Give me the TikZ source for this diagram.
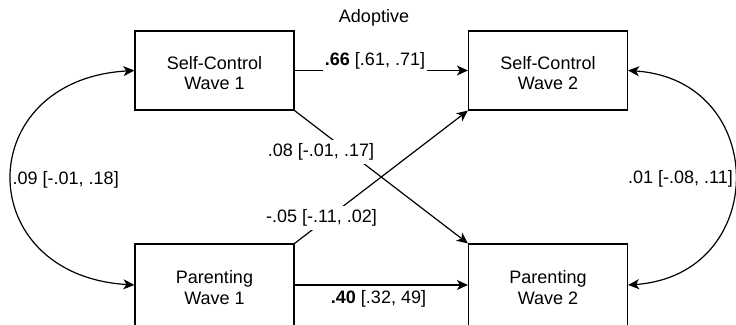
\documentclass[tikz,border=0pt]{standalone}
\usepackage{fontspec}
\setmainfont{Liberation Sans}
\usetikzlibrary{arrows.meta}
\begin{document}
\begin{tikzpicture}[x=1pt,y=-1pt,
  box/.style={draw, line width=1.2pt, minimum width=159pt, minimum height=79pt, inner sep=0pt},
  boxtext/.style={label={[align=center, font=\fontsize{18}{20.7}\selectfont, inner sep=0pt, yshift=-2.5pt]center:#1}},
  lbl/.style={font=\fontsize{18}{20.7}\selectfont, inner xsep=1.5pt, inner ysep=0pt},
  coverlbl/.style={lbl, fill=white, minimum height=24pt},
  tip/.tip={Stealth[length=11pt,width=10pt,inset=3pt]},
  arr/.style={line width=1.2pt, -tip},
  biarr/.style={line width=1.2pt, tip-tip}]
\useasboundingbox (0,0) rectangle (736,324);
\clip (0,0) rectangle (736,324);
\node[box, boxtext={Self-Control\\Wave 1}] (sc1) at (214.5,70.5) {};
\node[box, boxtext={Self-Control\\Wave 2}] (sc2) at (548,70.5) {};
\node[box, minimum height=82pt, boxtext={Parenting\\Wave 1}] (p1) at (214.5,285) {};
\node[box, minimum height=82pt, boxtext={Parenting\\Wave 2}] (p2) at (548,285) {};
\node[lbl] (title) at (374,18) {Adoptive};
% paths
\draw[arr] (sc1.east) -- (sc2.west);
\draw[arr] (p1.east) -- (p2.west);
\draw[arr] (sc1.south east) -- (p2.north west);
\draw[arr] (p1.north east) -- (sc2.south west);
\draw[biarr] (sc1.west) .. controls (-29,80) and (-29,275) .. (p1.west);
\draw[biarr] (sc2.east) .. controls (770,80) and (770,275) .. (p2.east);
% labels
\node[coverlbl] (l66) at (375,61) {\textbf{.66} [.61, .71]};
\node[lbl] (l40) at (378.5,299) {\textbf{.40} [.32, 49]};
\node[coverlbl] (l08) at (321,152) {.08 [-.01, .17]};
\node[coverlbl] (l05) at (321.5,218) {-.05 [-.11, .02]};
\node[lbl, anchor=west, inner xsep=0pt] (l09) at (12.5,180) {.09 [-.01, .18]};
\node[lbl, anchor=east, inner xsep=0pt] (l01) at (733,179) {.01 [-.08, .11]};
\end{tikzpicture}
\end{document}
